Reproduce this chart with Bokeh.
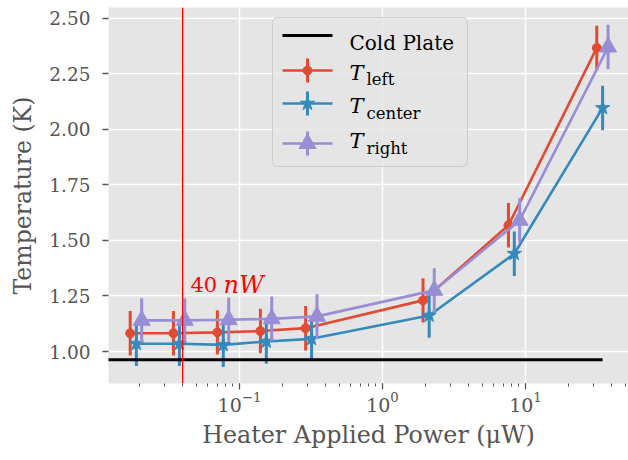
import math
from bokeh.plotting import figure
from bokeh.models import Range1d, FixedTicker, PrintfTickFormatter, Span
from bokeh.core.properties import value
from bokeh.embed import file_html
from bokeh.resources import INLINE

# ---------------- data ----------------
power_left = [0.0172, 0.0345, 0.0700, 0.140, 0.290, 1.92, 7.6, 31.5]
temp_left = [1.082, 1.082, 1.086, 1.092, 1.105, 1.230, 1.568, 2.366]
err_left = [0.10, 0.10, 0.10, 0.10, 0.10, 0.10, 0.10, 0.10]

power_center = [0.0190, 0.0380, 0.0770, 0.154, 0.319, 2.12, 8.35, 34.6]
temp_center = [1.035, 1.035, 1.030, 1.045, 1.057, 1.162, 1.440, 2.096]
err_center = [0.10, 0.10, 0.10, 0.10, 0.10, 0.10, 0.10, 0.10]

power_right = [0.0207, 0.0414, 0.0840, 0.168, 0.348, 2.30, 9.1, 37.8]
temp_right = [1.140, 1.140, 1.143, 1.147, 1.158, 1.275, 1.590, 2.370]
err_right = [0.10, 0.10, 0.10, 0.10, 0.10, 0.10, 0.10, 0.10]

cold_plate_power = [0.0110, 34.6]
cold_plate_temp = [0.963, 0.963]

marker_power = 0.04  # 40 nW
y_ticks = [1.00, 1.25, 1.50, 1.75, 2.00, 2.25, 2.50]

# ---------------- layout ----------------
X_START, X_END = 0.01213, 52.5
Y_START, Y_END = 0.856, 2.548
FRAME_L, FRAME_R, FRAME_T, FRAME_B = 108, 628, 7, 383  # page pixels

FONT = "DejaVu Serif"
GREY = "#555555"
RED, BLUE, PURPLE = "#E24A33", "#348ABD", "#988ED5"


def px_x(px):
    lo, hi = math.log10(X_START), math.log10(X_END)
    return 10 ** (lo + (px - FRAME_L) / (FRAME_R - FRAME_L) * (hi - lo))


def px_y(py):
    return Y_END - (py - FRAME_T) / (FRAME_B - FRAME_T) * (Y_END - Y_START)


p = figure(width=628, height=460, x_axis_type="log",
           x_range=Range1d(X_START, X_END), y_range=Range1d(Y_START, Y_END),
           output_backend="svg", toolbar_location=None,
           min_border_left=FRAME_L, min_border_right=0, min_border_top=FRAME_T,
           min_border_bottom=460 - FRAME_B)

p.background_fill_color = "#E5E5E5"
p.border_fill_color = "white"
p.outline_line_color = None

for g in (p.xgrid, p.ygrid):
    g.grid_line_color = "white"
    g.grid_line_width = 1.5
p.ygrid.ticker = FixedTicker(ticks=y_ticks)

p.yaxis.ticker = FixedTicker(ticks=y_ticks)
p.yaxis.formatter = PrintfTickFormatter(format="%.2f")

for ax in (p.xaxis, p.yaxis):
    ax.axis_line_color = None
    ax.major_tick_line_color = GREY
    ax.major_tick_line_width = 1.3
    ax.major_tick_in = 0
    ax.major_tick_out = 6
    ax.minor_tick_line_color = GREY
    ax.minor_tick_in = 0
    ax.minor_tick_out = 3
    ax.major_label_text_font = FONT
    ax.major_label_text_color = GREY
    ax.axis_label_text_font = FONT
    ax.axis_label_text_color = GREY
    ax.axis_label_text_font_style = "normal"

p.yaxis.minor_tick_line_color = None
p.yaxis.major_label_text_font_size = "18.5px"
p.xaxis.major_label_text_font_size = "19px"
p.yaxis.major_label_standoff = 12
p.xaxis.major_label_standoff = 2
p.yaxis.axis_label = "Temperature (K)"
p.xaxis.axis_label = "Heater Applied Power (μW)"
p.yaxis.axis_label_text_font_size = "23.6px"
p.xaxis.axis_label_text_font_size = "23.8px"
p.yaxis.axis_label_standoff = 9
p.xaxis.axis_label_standoff = 6

# ---------------- data series ----------------
series = [
    (power_left, temp_left, err_left, RED, "circle", 9),
    (power_center, temp_center, err_center, BLUE, "star", 15),
    (power_right, temp_right, err_right, PURPLE, "triangle", 17),
]
for xs, ys, es, col, mk, sz in series:
    p.segment(x0=xs, y0=[y - e for y, e in zip(ys, es)],
              x1=xs, y1=[y + e for y, e in zip(ys, es)],
              line_color=col, line_width=3)
    p.line(xs, ys, line_color=col, line_width=2.6)
    p.scatter(xs, ys, marker=mk, size=sz, fill_color=col, line_color=col)

p.line(cold_plate_power, cold_plate_temp, line_color="black", line_width=3)

p.add_layout(Span(location=marker_power, dimension="height",
                  line_color="red", line_width=1.3))

p.text(x=[px_x(190)], y=[px_y(284)], text=["40"], text_font=value(FONT),
       text_font_size="21px", text_color="red", text_baseline="alphabetic")
p.text(x=[px_x(223)], y=[px_y(284)], text=["nW"], text_font=value(FONT),
       text_font_size="24px", text_font_style="italic", text_color="red",
       text_baseline="alphabetic")

# ---------------- legend (drawn by hand for subscripts) ----------------
p.quad(left=[px_x(272)], right=[px_x(467)], top=[px_y(17)], bottom=[px_y(166)],
       fill_color="#E5E5E5", fill_alpha=0.8, line_color="#CCCCCC",
       line_width=1, border_radius=5)

hx0, hx1, hxm = px_x(282), px_x(332), px_x(307)
rows = [35, 70, 103, 143]
p.line([hx0, hx1], [px_y(rows[0])] * 2, line_color="black", line_width=3)
p.text(x=[px_x(349)], y=[px_y(42)], text=["Cold Plate"], text_font=value(FONT),
       text_font_size="20px", text_color="black", text_baseline="alphabetic")

legend_items = [
    (RED, "circle", 9, rows[1], 72, 79, "left"),
    (BLUE, "star", 15, rows[2], 105, 113, "center"),
    (PURPLE, "triangle", 17, rows[3], 140, 148, "right"),
]
for col, mk, sz, ry, tb, sb, sub in legend_items:
    p.line([hx0, hx1], [px_y(ry)] * 2, line_color=col, line_width=2.6)
    p.segment(x0=[hxm], y0=[px_y(ry - 12)], x1=[hxm], y1=[px_y(ry + 12)],
              line_color=col, line_width=3)
    p.scatter([hxm], [px_y(ry)], marker=mk, size=sz, fill_color=col, line_color=col)
    p.text(x=[px_x(349)], y=[px_y(tb)], text=["T"], text_font=value(FONT),
           text_font_size="21px", text_font_style="italic", text_color="black",
           text_baseline="alphabetic")
    p.text(x=[px_x(366)], y=[px_y(sb)], text=[sub], text_font=value(FONT),
           text_font_size="16.5px", text_color="black", text_baseline="alphabetic")

open("out.html", "w").write(file_html(p, INLINE))
